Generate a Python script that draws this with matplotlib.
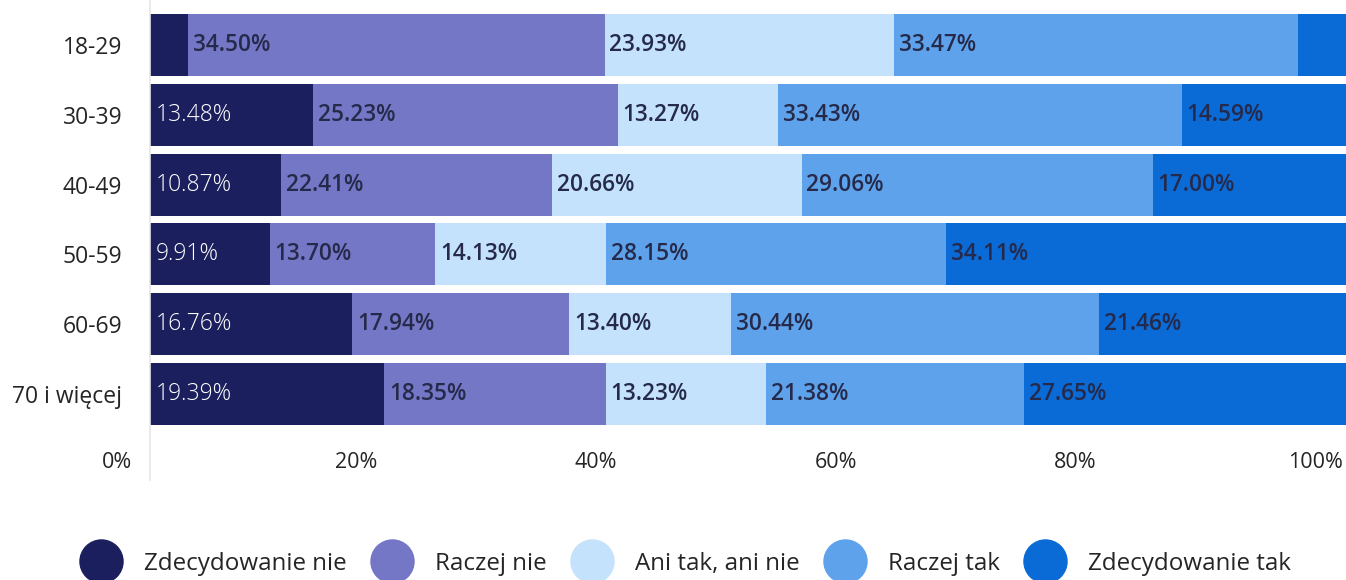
import matplotlib
matplotlib.use("Agg")
import matplotlib.pyplot as plt
from matplotlib.lines import Line2D
from matplotlib.transforms import ScaledTranslation
import numpy as np

plt.rcParams['font.family'] = ['Open Sans', 'DejaVu Sans']

# Dane
age_groups = ['18-29', '30-39', '40-49', '50-59', '60-69', '70 i więcej']
series_names = ['Zdecydowanie nie', 'Raczej nie', 'Ani tak, ani nie',
                'Raczej tak', 'Zdecydowanie tak']
zdecydowanie_nie = [3.13, 13.48, 10.87, 9.91, 16.76, 19.39]
raczej_nie = [34.50, 25.23, 22.41, 13.70, 17.94, 18.35]
ani_tak_ani_nie = [23.93, 13.27, 20.66, 14.13, 13.40, 13.23]
raczej_tak = [33.47, 33.43, 29.06, 28.15, 30.44, 21.38]
zdecydowanie_tak = [4.97, 14.59, 17.00, 34.11, 21.46, 27.65]
x_ticks = [0, 20, 40, 60, 80, 100]
x_tick_labels = ['0%', '20%', '40%', '60%', '80%', '100%']

colors = ['#1b1f5e', '#7476c6', '#c4e2fb', '#5fa2ec', '#0a6ad6']
series = [zdecydowanie_nie, raczej_nie, ani_tak_ani_nie, raczej_tak, zdecydowanie_tak]

W, H = 1346, 580
fig = plt.figure(figsize=(W / 100, H / 100), dpi=100)
# os x: 0% przy 150 px, 100% przy ~1358 px (wykres jest przycięty z prawej)
ax = fig.add_axes([150 / W, 1 - 480 / H, 1208 / W, 480 / H])

y = np.arange(len(age_groups))
left = np.zeros(len(age_groups))
for name, vals, col in zip(series_names, series, colors):
    vals = np.array(vals)
    ax.barh(y, vals, left=left, height=0.89, color=col, label=name)
    for yi, l, v in zip(y, left, vals):
        if v < 8:
            continue
        if col == colors[0]:
            ax.annotate(f'{v:.2f}%', (l, yi), xytext=(4, 0), textcoords='offset points',
                        va='center', ha='left', fontsize=16.5, color='white',
                        fontweight='light')
        else:
            ax.annotate(f'{v:.2f}%', (l, yi), xytext=(3.5, 0), textcoords='offset points',
                        va='center', ha='left', fontsize=16.3, color='#262a4a',
                        fontweight='semibold')
    left += vals

ax.set_xlim(0, 100)
ax.set_ylim(6.24, -0.65)
ax.set_yticks(y)
ax.set_yticklabels(age_groups, fontsize=16.5, color='#252525')
ax.set_xticks(x_ticks)
ax.set_xticklabels(x_tick_labels, fontsize=15.5, color='#252525')
ax.tick_params(axis='y', length=0, pad=20)
ax.tick_params(axis='x', length=0, pad=-20)
# etykiety osi x są w oryginale przesunięte w lewo względem słupków
for t, lbl in zip(x_ticks, ax.get_xticklabels()):
    dx = (-33 - 0.1 * t) / 100
    lbl.set_transform(lbl.get_transform() + ScaledTranslation(dx, 0, fig.dpi_scale_trans))

for s in ['top', 'right', 'bottom']:
    ax.spines[s].set_visible(False)
ax.spines['left'].set_color('#e6e6e6')
ax.spines['left'].set_linewidth(1.2)

# Legenda
handles = [Line2D([0], [0], marker='o', linestyle='none', markersize=31,
                  markerfacecolor=c, markeredgecolor=c) for c in colors]
fig.legend(handles, series_names, loc='center', bbox_to_anchor=(0.509, 0.028),
           ncol=5, frameon=False, fontsize=17.4, handlelength=1.85,
           handletextpad=0.85, columnspacing=0.95, labelcolor='#252525')

fig.savefig('out.png', dpi=100)
